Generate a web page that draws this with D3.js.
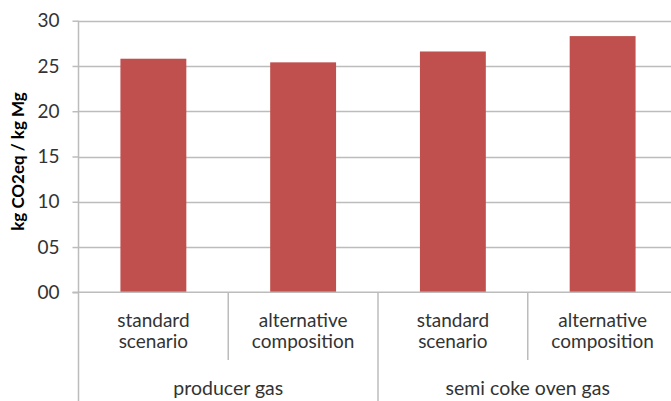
<!DOCTYPE html>
<html>
<head>
<meta charset="utf-8">
<script src="https://cdn.jsdelivr.net/npm/d3@7"></script>
<style>
  html, body { margin: 0; padding: 0; background: #fff; }
  svg { display: block; }
</style>
</head>
<body>
<svg id="chart" width="671" height="401"></svg>
<script>
const categories = ["standard scenario", "alternative composition", "standard scenario", "alternative composition"];
const groupOf = ["producer gas", "producer gas", "semi coke oven gas", "semi coke oven gas"];
const groups = ["producer gas", "semi coke oven gas"];
const values = [25.8, 25.4, 26.6, 28.3];
const yTicks = [0, 5, 10, 15, 20, 25, 30];
const yTitle = "kg CO2eq / kg Mg";

const svg = d3.select("#chart");
const font = "Lato, 'Open Sans', sans-serif";
const textColor = "#333333";
const mLeft = 78.5, mRight = 677.5, mTop = 20.7, mBottom = 292.3;

const ids = categories.map((c, i) => i);
const x = d3.scaleBand().domain(ids).range([mLeft, mRight]).paddingInner(0.56).paddingOuter(0.28);
const xb = d3.scaleBand().domain(ids).range([mLeft, mRight]);
const y = d3.scaleLinear().domain([0, 30]).range([mBottom, mTop]);

// gridlines
svg.append("g").selectAll("line").data(yTicks.filter(t => t > 0)).join("line")
  .attr("x1", mLeft).attr("x2", 671)
  .attr("y1", d => Math.round(y(d)) + 0.5).attr("y2", d => Math.round(y(d)) + 0.5)
  .attr("stroke", "#bcbcbc").attr("stroke-width", 1.5);

// bars
svg.append("g").selectAll("rect").data(values).join("rect")
  .attr("x", (d, i) => x(i)).attr("width", x.bandwidth())
  .attr("y", d => y(d)).attr("height", d => y(0) - y(d))
  .attr("fill", "#C0504D");

// y axis
const yAxis = d3.axisLeft(y).tickValues(yTicks).tickFormat(d3.format("02d")).tickSize(6).tickPadding(13);
const yg = svg.append("g").attr("transform", `translate(${mLeft},0)`).call(yAxis);
yg.select(".domain").remove();
yg.selectAll(".tick line").attr("stroke", "#bcbcbc").attr("stroke-width", 1.5);
yg.selectAll(".tick text").attr("font-family", font).attr("font-size", 19).attr("fill", textColor);
svg.append("line").attr("x1", mLeft).attr("x2", mLeft).attr("y1", mTop).attr("y2", 401)
  .attr("stroke", "#bcbcbc").attr("stroke-width", 1.5);

// x axis line
svg.append("line").attr("x1", mLeft - 6).attr("x2", 671).attr("y1", mBottom).attr("y2", mBottom)
  .attr("stroke", "#bcbcbc").attr("stroke-width", 1.5);

// category dividers
svg.append("g").selectAll("line").data(ids.slice(1)).join("line")
  .attr("x1", d => xb(d)).attr("x2", d => xb(d))
  .attr("y1", mBottom).attr("y2", d => groupOf[d] !== groupOf[d - 1] ? 401 : 360)
  .attr("stroke", "#bcbcbc").attr("stroke-width", 1.5);

// category labels (two lines each, as separate text elements)
const lines = [];
categories.forEach((c, i) => c.split(" ").forEach((w, j) => lines.push({ i, j, w })));
svg.append("g").selectAll("text").data(lines).join("text")
  .attr("x", d => xb(d.i) + xb.bandwidth() / 2)
  .attr("y", d => 327 + d.j * 21)
  .attr("text-anchor", "middle").attr("font-family", font).attr("font-size", 19).attr("fill", textColor)
  .text(d => d.w);

// group labels
svg.append("g").selectAll("text").data(groups).join("text")
  .attr("x", g => {
    const idx = ids.filter(i => groupOf[i] === g);
    return (xb(idx[0]) + xb(idx[idx.length - 1]) + xb.bandwidth()) / 2;
  })
  .attr("y", 395).attr("text-anchor", "middle")
  .attr("font-family", font).attr("font-size", 19.5).attr("fill", textColor)
  .text(g => g);

// y title
svg.append("text")
  .attr("transform", `translate(24,${(78 + 245) / 2}) rotate(-90)`)
  .attr("text-anchor", "middle").attr("font-family", font).attr("font-weight", "bold")
  .attr("font-size", 17).attr("fill", "#000")
  .text(yTitle);
</script>
</body>
</html>
